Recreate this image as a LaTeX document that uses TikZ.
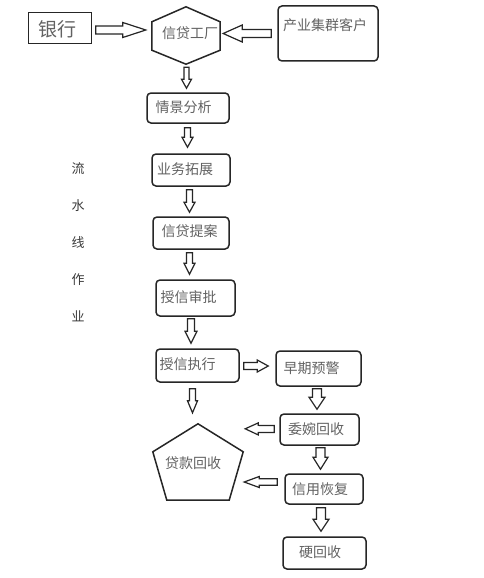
\documentclass[tikz,border=0pt]{standalone}
\usepackage{fontspec}
\newfontfamily\cjk{Noto Sans CJK SC}
\usetikzlibrary{calc}
\definecolor{ink}{HTML}{262626}
\definecolor{txtgray}{HTML}{626262}
\definecolor{sidegray}{HTML}{3A3A3A}
% block arrow: #1 tail, #2 tip, #3 shaft width, #4 head width, #5 head length
\newcommand\barrow[5]{%
  \path let \p1=#1, \p2=#2, \n1={veclen(\x2-\x1,\y2-\y1)}, \n2={atan2(\y2-\y1,\x2-\x1)} in
    \pgfextra{\xdef\bLen{\n1}\xdef\bAng{\n2}} (\p1) coordinate (bt);
  \begin{scope}[shift={(bt)}, rotate=\bAng, x=1pt, y=1pt]
    \draw[blk] (0,{#3/2}) -- ({\bLen-#5},{#3/2}) -- ({\bLen-#5},{#4/2}) -- (\bLen,0)
      -- ({\bLen-#5},{-#4/2}) -- ({\bLen-#5},{-#3/2}) -- (0,{-#3/2}) -- cycle;
  \end{scope}}
\begin{document}
\begin{tikzpicture}[x=1pt, y=-1pt,
  box/.style={draw=ink, line width=1.5pt, rounded corners=4pt, fill=white, inner sep=0pt},
  plainbox/.style={draw=ink, line width=1.5pt, fill=white, inner sep=0pt},
  frame/.style={draw=none, inner sep=0pt},
  shapeline/.style={draw=ink, line width=1.5pt, line join=miter, fill=white},
  txt/.style={font=\cjk\fontsize{14}{16}\selectfont, text=txtgray, inner sep=0pt},
  bigtxt/.style={font=\cjk\fontsize{19}{21}\selectfont, text=txtgray, inner sep=0pt},
  side/.style={font=\cjk\fontsize{13}{37}\selectfont, text=sidegray, inner sep=0pt, align=center},
  blk/.style={draw=ink, line width=1.2pt, fill=white, line join=miter}]
\fill[white] (0,0) rectangle (484,578);
\useasboundingbox (0,0) rectangle (484,578);

% nodes
\node[plainbox, minimum width=63, minimum height=31] (bank) at (60,28) {};
\node[frame, minimum width=68, minimum height=57] (hex) at (186,35.5) {};
\draw[shapeline] (hex.north) -- ($(hex.north east)+(0,15)$) -- ($(hex.south east)+(0,-14)$)
  -- (hex.south) -- ($(hex.south west)+(0,-14)$) -- ($(hex.north west)+(0,15)$) -- cycle;
\node[box, minimum width=100, minimum height=55] (cust) at (328,33.5) {};
\node[box, minimum width=82, minimum height=30] (qj) at (188,108) {};
\node[box, minimum width=78, minimum height=32] (yw) at (191,170) {};
\node[box, minimum width=76, minimum height=32] (ta) at (191,233) {};
\node[box, minimum width=79, minimum height=36] (sp) at (195.5,298) {};
\node[box, minimum width=83, minimum height=33] (zx) at (197.5,365.5) {};
\node[box, minimum width=85, minimum height=35] (yj) at (318.5,368.5) {};
\node[box, minimum width=79, minimum height=31] (ww) at (319.5,429.5) {};
\node[frame, minimum width=90, minimum height=76] (pent) at (198,462) {};
\draw[shapeline] (pent.north) -- ($(pent.north east)+(0,28)$) -- ($(pent.south east)+(-14,0)$)
  -- ($(pent.south west)+(14,0)$) -- ($(pent.north west)+(0,28)$) -- cycle;
\node[box, minimum width=78, minimum height=30] (hf) at (324,489) {};
\node[box, minimum width=83, minimum height=32] (yh) at (324.5,553) {};

% texts
\node[bigtxt] (tbank) at (57,29) {银行};
\node[txt] (thex) at (190,33) {信贷工厂};
\node[txt] (tcust) at (325,25) {产业集群客户};
\node[txt] (tqj) at (183.5,107) {情景分析};
\node[txt] (tyw) at (185,169) {业务拓展};
\node[txt] (tta) at (189.5,231) {信贷提案};
\node[txt] (tsp) at (188.5,297) {授信审批};
\node[txt] (tzx) at (187.5,364) {授信执行};
\node[txt] (tyj) at (311.5,368) {早期预警};
\node[txt] (tww) at (316,429) {委婉回收};
\node[txt] (tpent) at (193,463) {贷款回收};
\node[txt] (thf) at (320,489) {信用恢复};
\node[txt] (tyh) at (320,552) {硬回收};
\node[side] (tside) at (78,242.5) {流\\水\\线\\作\\业};

% block arrows
\barrow{($(bank.east)+(3.5,2)$)}{($(hex.west)+(-6,-5.5)$)}{8}{15}{23}
\barrow{($(cust.west)+(-6,0)$)}{($(hex.east)+(3,-2)$)}{8}{17}{19}
\barrow{($(hex.south)+(0.5,3)$)}{($(qj.north)+(-1.5,-4)$)}{5}{10}{9}
\barrow{($(qj.south)+(-0.5,4)$)}{($(yw.north)+(-3.5,-6)$)}{6}{11}{10}
\barrow{($(yw.south)+(-1.5,3)$)}{($(ta.north)+(-1.5,-4)$)}{6}{11}{10}
\barrow{($(ta.south)+(-1.5,3)$)}{($(sp.north)+(-6,-5)$)}{6}{11}{11}
\barrow{($(sp.south)+(-4.5,2)$)}{($(zx.north)+(-6.5,-5)$)}{7}{12}{12}
\barrow{($(zx.east)+(4,0.5)$)}{($(yj.west)+(-7,-2.5)$)}{7}{12}{11}
\barrow{($(zx.south)+(-5,6)$)}{($(pent.north)+(-5.5,-11)$)}{6}{10}{12}
\barrow{($(yj.south)+(-1.5,2)$)}{($(ww.north)+(-2.5,-4)$)}{9}{16}{12}
\barrow{($(ww.west)+(-5,-0.5)$)}{($(pent.north east)+(2,5)$)}{7}{12}{13}
\barrow{($(ww.south)+(1,2)$)}{($(hf.north)+(-3.5,-4)$)}{9}{15}{12}
\barrow{($(hf.west)+(-7,-7)$)}{($(pent.east)+(1,20)$)}{6.5}{11}{15}
\barrow{($(hf.south)+(-3,3)$)}{($(yh.north)+(-3.5,-5)$)}{9}{16}{12}
\end{tikzpicture}
\end{document}
